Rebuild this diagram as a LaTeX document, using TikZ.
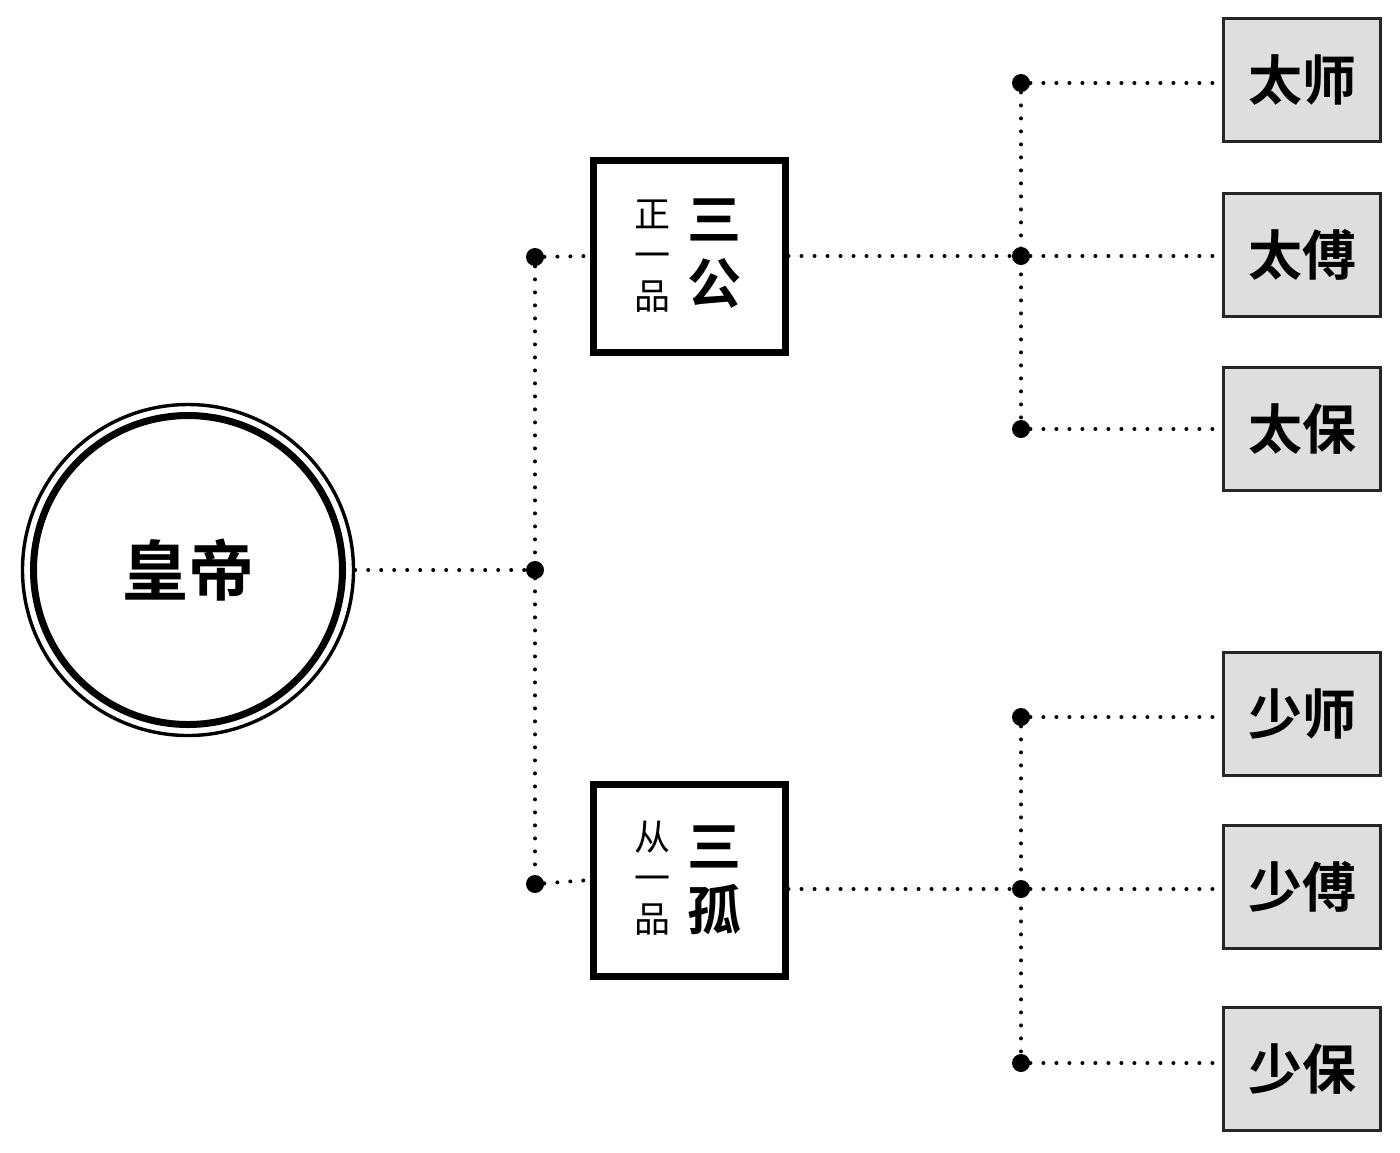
\documentclass[tikz,border=0pt]{standalone}
\usepackage{fontspec}
\newfontfamily\cjk{Noto Sans CJK SC}
\newfontfamily\cjkb{Noto Sans CJK SC Bold}
\begin{document}
\begin{tikzpicture}[x=0.5pt,y=-0.5pt,
  dotline/.style={line width=2pt, dash pattern=on 0pt off 6.5pt, line cap=round},
  jdot/.style={circle, fill=black, inner sep=0pt, minimum size=9pt},
  rankbox/.style={draw, line width=3.5pt, minimum width=96pt, minimum height=96pt, inner sep=0pt},
  titlebox/.style={draw=black!85, line width=1.5pt, fill=black!13, minimum width=78.5pt, minimum height=61.5pt, inner sep=0pt, font=\cjkb\fontsize{27pt}{30pt}\selectfont},
  smallcol/.style={align=center, inner sep=0pt, font=\cjk\fontsize{18pt}{20.5pt}\selectfont},
  bigcol/.style={align=center, inner sep=0pt, font=\cjkb\fontsize{27pt}{32pt}\selectfont}
]
\useasboundingbox (0,0) rectangle (1400,1152);
% emperor
\node[circle, draw, line width=1.7pt, minimum size=165.5pt, inner sep=0pt] (ring) at (188,570) {};
\node[circle, draw, line width=3.5pt, minimum size=154.5pt, inner sep=0pt, font=\cjkb\fontsize{33pt}{36pt}\selectfont] (emp) at (188,570) {皇帝};
% junctions
\node[jdot] (d0) at (535,570) {};
\node[jdot] (dA) at (535,257) {};
\node[jdot] (dB) at (535,884) {};
% rank boxes
\node[rankbox] (sg) at (689,256) {};
\node[smallcol] (sgs) at (652,256) {正\\一\\品};
\node[bigcol] (sgb) at (714,254) {三\\公};
\node[rankbox] (sk) at (689,880) {};
\node[smallcol] (sks) at (652,878) {从\\一\\品};
\node[bigcol] (skb) at (714,880) {三\\孤};
% right junctions
\node[jdot] (u1) at (1021,83) {};
\node[jdot] (u2) at (1021,256) {};
\node[jdot] (u3) at (1021,429) {};
\node[jdot] (l1) at (1021,717) {};
\node[jdot] (l2) at (1021,889) {};
\node[jdot] (l3) at (1021,1063) {};
% title boxes
\node[titlebox] (t1) at (1302,80) {太师};
\node[titlebox] (t2) at (1302,255) {太傅};
\node[titlebox] (t3) at (1302,429) {太保};
\node[titlebox] (t4) at (1302,714) {少师};
\node[titlebox] (t5) at (1302,887) {少傅};
\node[titlebox] (t6) at (1302,1069) {少保};
% connectors
\draw[dotline] (ring.east) -- (d0);
\draw[dotline] (dA) -- (dB);
\draw[dotline] (dA) -- (sg.west);
\draw[dotline] (dB) -- (sk.west);
\draw[dotline] (sg.east) -- (u2);
\draw[dotline] (sk.east |- l2) -- (l2);
\draw[dotline] (u1) -- (u3);
\draw[dotline] (l1) -- (l3);
\draw[dotline] (u1) -- (t1.west |- u1);
\draw[dotline] (u2) -- (t2.west |- u2);
\draw[dotline] (u3) -- (t3.west |- u3);
\draw[dotline] (l1) -- (t4.west |- l1);
\draw[dotline] (l2) -- (t5.west |- l2);
\draw[dotline] (l3) -- (t6.west |- l3);
\end{tikzpicture}
\end{document}
